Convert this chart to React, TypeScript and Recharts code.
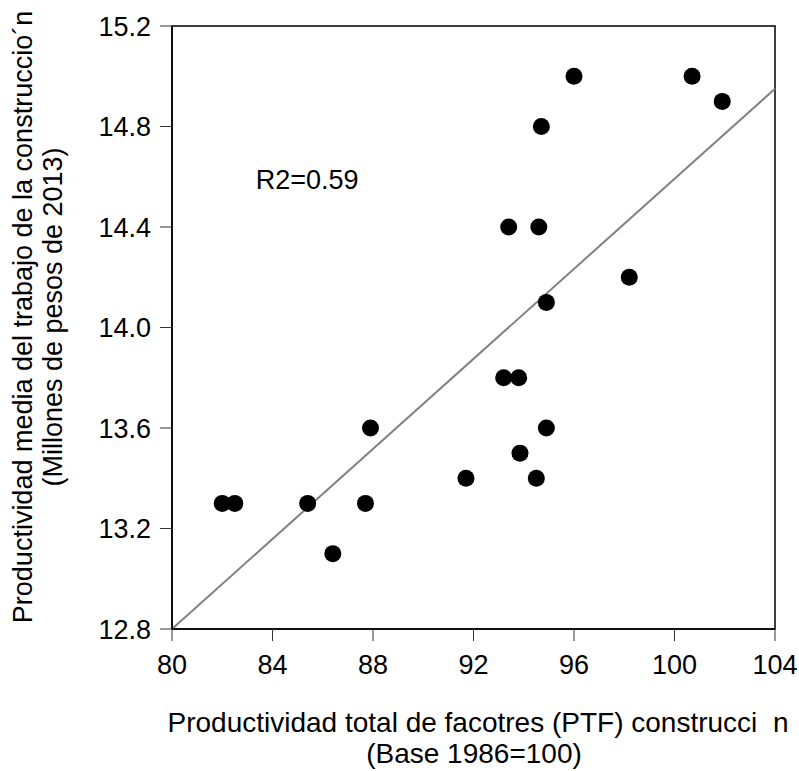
import {
  ScatterChart,
  Scatter,
  XAxis,
  YAxis,
  ReferenceLine,
  ReferenceArea,
  ReferenceDot,
  Label,
} from 'recharts';

const ptf = [82.0, 82.5, 85.4, 86.4, 87.7, 87.9, 91.7, 93.2, 93.8, 93.85, 94.5, 94.9, 94.9, 93.4, 94.6, 94.7, 96.0, 98.2, 100.7, 101.9];
const productividad = [13.3, 13.3, 13.3, 13.1, 13.3, 13.6, 13.4, 13.8, 13.8, 13.5, 13.4, 13.6, 14.1, 14.4, 14.4, 14.8, 15.0, 14.2, 15.0, 14.9];

const xTicks = [80, 84, 88, 92, 96, 100, 104];
const yTicks = [12.8, 13.2, 13.6, 14.0, 14.4, 14.8, 15.2];

// ajuste lineal
const fitX = [80, 104];
const fitY = [12.8, 14.95];

const r2Text = 'R2=0.59';
const r2At = { x: 83.33, y: 14.55 };

const data = ptf.map((x, i) => ({ x, y: productividad[i] }));

const FONT = 27;

const Dot = (props: any) => <circle cx={props.cx} cy={props.cy} r={8.5} fill="#000" />;

const YTitle = () => (
  <g fontSize={FONT} fill="#000">
    <text x={32} y={317} transform="rotate(-90, 32, 317)" textAnchor="middle">
      Productividad media del trabajo de la construccio´n
    </text>
    <text x={62} y={317} transform="rotate(-90, 62, 317)" textAnchor="middle">
      (Millones de pesos de 2013)
    </text>
  </g>
);

const XTitle = () => (
  <g fontSize={28} fill="#000">
    <text x={478} y={732} textAnchor="middle" style={{ whiteSpace: 'pre' }}>
      {'Productividad total de facotres (PTF) construcci\u00a0\u00a0n'}
    </text>
    <text x={474} y={763} textAnchor="middle">
      (Base 1986=100)
    </text>
  </g>
);

export default function App() {
  return (
    <div
      style={{
        position: 'absolute',
        left: 0,
        top: 0,
        background: '#fff',
        fontFamily: '"Liberation Sans", Arial, Helvetica, sans-serif',
      }}
    >
      <ScatterChart width={799} height={771} margin={{ top: 26, right: 24, bottom: 0, left: 0 }}>
        <XAxis
          type="number"
          dataKey="x"
          domain={[80, 104]}
          ticks={xTicks}
          height={142}
          tickSize={12}
          tickMargin={14}
          axisLine={{ stroke: '#000', strokeWidth: 1.5 }}
          tickLine={{ stroke: '#333' }}
          tick={{ fill: '#000', fontSize: FONT }}
          allowDataOverflow
        >
          <Label content={<XTitle />} />
        </XAxis>
        <YAxis
          type="number"
          dataKey="y"
          domain={[12.8, 15.2]}
          ticks={yTicks}
          width={172}
          tickSize={12}
          tickMargin={9}
          tickFormatter={(v: number) => v.toFixed(1)}
          axisLine={{ stroke: '#000', strokeWidth: 1.5 }}
          tickLine={{ stroke: '#333' }}
          tick={{ fill: '#000', fontSize: FONT }}
          allowDataOverflow
        >
          <Label content={<YTitle />} />
        </YAxis>
        <ReferenceArea
          x1={80}
          x2={104}
          y1={12.8}
          y2={15.2}
          fill="none"
          fillOpacity={0}
          stroke="#000"
          strokeWidth={1.5}
        />
        <ReferenceLine
          segment={[
            { x: fitX[0], y: fitY[0] },
            { x: fitX[1], y: fitY[1] },
          ]}
          stroke="#808080"
          strokeWidth={2}
        />
        <ReferenceDot
          x={r2At.x}
          y={r2At.y}
          r={0}
          shape={(p: any) => (
            <text x={p.cx} y={p.cy} fontSize={FONT} fill="#000">
              {r2Text}
            </text>
          )}
        />
        <Scatter data={data} fill="#000" shape={<Dot />} isAnimationActive={false} />
      </ScatterChart>
    </div>
  );
}
